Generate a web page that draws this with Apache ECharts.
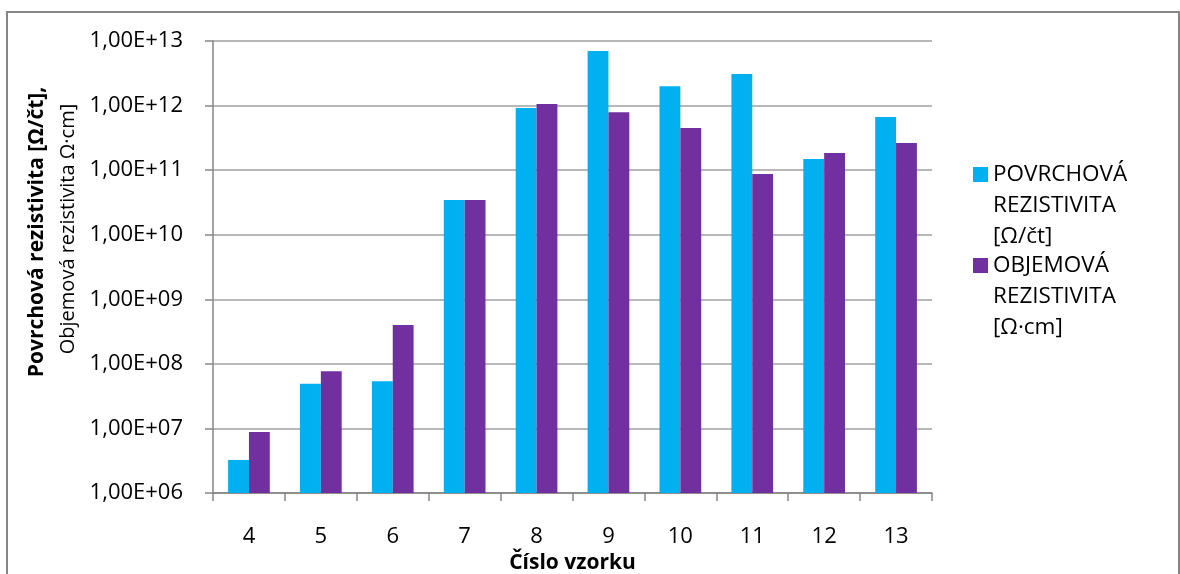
<!DOCTYPE html>
<html>
<head>
<meta charset="utf-8">
<script src="https://cdn.jsdelivr.net/npm/echarts@6/dist/echarts.min.js"></script>
<style>html,body{margin:0;padding:0;background:#fff}#c{width:1180px;height:574px}</style>
</head>
<body>
<div id="c"></div>
<script>
const categories = ['4','5','6','7','8','9','10','11','12','13'];
const surfaceName = 'POVRCHOVÁ REZISTIVITA [Ω/čt]';
const volumeName = 'OBJEMOVÁ REZISTIVITA [Ω·cm]';
const surfaceValues = [3.25e6, 4.9e7, 5.4e7, 3.45e10, 9.2e11, 7.0e12, 2.0e12, 3.08e12, 1.49e11, 6.65e11];
const volumeValues  = [8.8e6, 7.7e7, 4.0e8, 3.45e10, 1.06e12, 7.9e11, 4.5e11, 8.7e10, 1.85e11, 2.63e11];
const yMin = 1e6, yMax = 1e13;
const xTitle = 'Číslo vzorku';
const yTitle1 = 'Povrchová rezistivita [Ω/čt],';
const yTitle2 = 'Objemová rezistivita Ω·cm]';

const FONT = '"Open Sans", "Liberation Sans", sans-serif';
const chart = echarts.init(document.getElementById('c'), null, {renderer: 'canvas'});
function fmtSci(v) {
  const e = Math.round(Math.log10(v));
  return '1,00E+' + (e < 10 ? '0' + e : e);
}
const legendLabels = {};
legendLabels[surfaceName] = 'POVRCHOVÁ\nREZISTIVITA\n[Ω/čt]';
legendLabels[volumeName] = 'OBJEMOVÁ\nREZISTIVITA\n[Ω·cm]';

chart.setOption({
  animation: false,
  backgroundColor: '#fff',
  textStyle: {fontFamily: FONT},
  graphic: [
    {type: 'rect', shape: {x: 7, y: 12, width: 1172, height: 700}, style: {fill: 'none', stroke: '#868686', lineWidth: 2}, z: -1},
    {type: 'text', x: 37, y: 232, rotation: Math.PI / 2,
      style: {text: yTitle1, font: 'bold 21px ' + FONT, fill: '#000', align: 'center', verticalAlign: 'middle'}},
    {type: 'text', x: 68, y: 229, rotation: Math.PI / 2,
      style: {text: yTitle2, font: '20px ' + FONT, fill: '#000', align: 'center', verticalAlign: 'middle'}}
  ],
  legend: {
    orient: 'vertical',
    left: 973,
    top: 97,
    padding: 0,
    itemWidth: 15,
    itemHeight: 15,
    itemGap: -64,
    icon: 'rect',
    formatter: function (n) { return '\n\n' + legendLabels[n]; },
    textStyle: {fontFamily: FONT, fontSize: 22.5, color: '#000', lineHeight: 31},
    data: [surfaceName, volumeName]
  },
  grid: {left: 213, right: 248, top: 41, bottom: 81, containLabel: false, outerBoundsMode: 'none'},
  xAxis: {
    type: 'category',
    data: categories,
    name: xTitle,
    nameLocation: 'middle',
    nameGap: 59,
    nameTextStyle: {fontFamily: FONT, fontSize: 21, fontWeight: 'bold', color: '#000'},
    axisLine: {lineStyle: {color: '#868686', width: 1.5}},
    axisTick: {show: true, length: 8, lineStyle: {color: '#868686', width: 1.5}},
    axisLabel: {fontFamily: FONT, fontSize: 22, color: '#000', margin: 33}
  },
  yAxis: {
    type: 'log',
    logBase: 10,
    min: yMin,
    max: yMax,
    splitNumber: 7,
    axisLine: {show: true, lineStyle: {color: '#868686', width: 1.5}},
    axisTick: {show: true, length: 8, lineStyle: {color: '#868686', width: 1.5}},
    axisLabel: {fontFamily: FONT, fontSize: 22, color: '#000', margin: 30, formatter: fmtSci},
    splitLine: {show: true, lineStyle: {color: '#A0A0A0', width: 1.5}},
    minorTick: {show: false},
    minorSplitLine: {show: false}
  },
  series: [
    {name: surfaceName, type: 'bar', data: surfaceValues, barGap: '0%', barCategoryGap: '42%', clip: true,
      itemStyle: {color: '#00B0F0'}},
    {name: volumeName, type: 'bar', data: volumeValues, barGap: '0%', barCategoryGap: '42%', clip: true,
      itemStyle: {color: '#7030A0'}}
  ]
});
</script>
</body>
</html>
